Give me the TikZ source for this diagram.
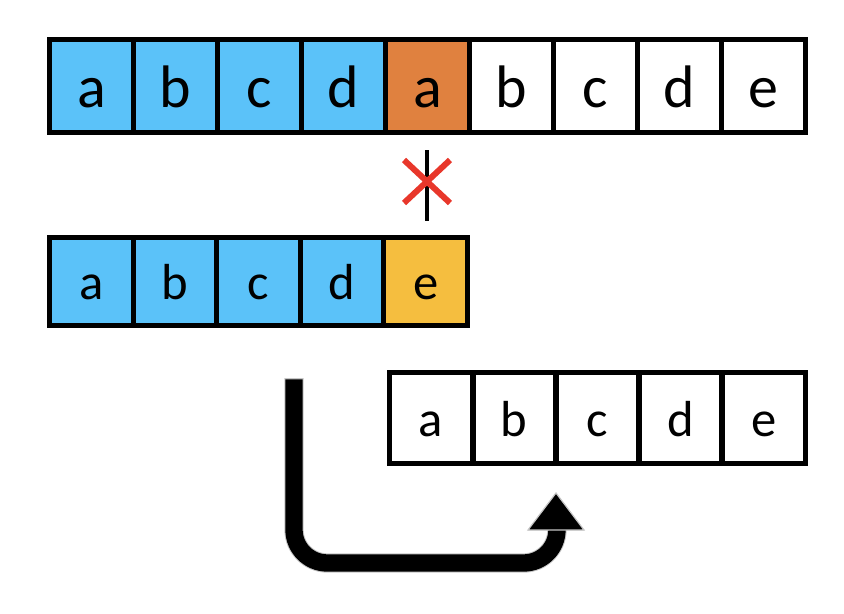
\documentclass[tikz,border=0pt]{standalone}
\usepackage{fontspec}
\setmainfont{Carlito}
\definecolor{cellblue}{RGB}{91,194,249}
\definecolor{cellorange}{RGB}{224,129,63}
\definecolor{cellyellow}{RGB}{245,190,63}
\definecolor{crossred}{RGB}{232,55,43}
\begin{document}
\begin{tikzpicture}[x=0.75pt,y=-0.75pt,
	cell/.style={draw,line width=3.75pt,inner sep=0pt,minimum width=63pt,text depth=0pt},
	bigcell/.style={cell,minimum height=69.75pt,text height=31.5pt,font=\fontsize{45}{45}\selectfont},
	smallcell/.style={cell,text height=27pt,font=\fontsize{38}{38}\selectfont}]
	\useasboundingbox (0,0) rectangle (844,614);
	
	% text row
	\foreach \c/\col [count=\i from 0] in {a/cellblue,b/cellblue,c/cellblue,d/cellblue,
		a/cellorange,b/white,c/white,d/white,e/white}{
		\node[bigcell,fill=\col] (t\i) at (91.5+84*\i,86) {\c};
	}
	
	% pattern
	\foreach \c/\col [count=\i from 0] in {a/cellblue,b/cellblue,c/cellblue,d/cellblue,e/cellyellow}{
		\node[smallcell,minimum height=66pt,fill=\col] (p\i) at (91.5+83.6*\i,281.5) {\c};
	}
	
	% mismatch
	\coordinate (mtop) at (427,150);
	\coordinate (mbot) at (427,221);
	\draw[line width=3pt] (mtop)--(mbot);
	\draw[crossred,line width=4.5pt] (404,160)--(450,203) (404,203)--(450,160);
	
	% shifted pattern
	\foreach \c [count=\i from 0] in {a,b,c,d,e}{
		\node[smallcell,minimum height=68.25pt] (s\i) at (431.1+83.2*\i,418) {\c};
	}
	
	% shift arrow
	\coordinate (from) at (294,378);
	\coordinate (to) at (557,531);
	\draw[gray!45,line width=14.5pt,rounded corners=25pt] (from) |- (557,563) -- (to);
	\draw[black,line width=13pt,rounded corners=25pt] ([yshift=-1pt]from) |- (557,563) -- ([yshift=2pt]to);
	\draw[gray!45,fill=black,line width=0.9pt] (528,530)--(556,493)--(584,530)--cycle;
\end{tikzpicture}
\end{document}
